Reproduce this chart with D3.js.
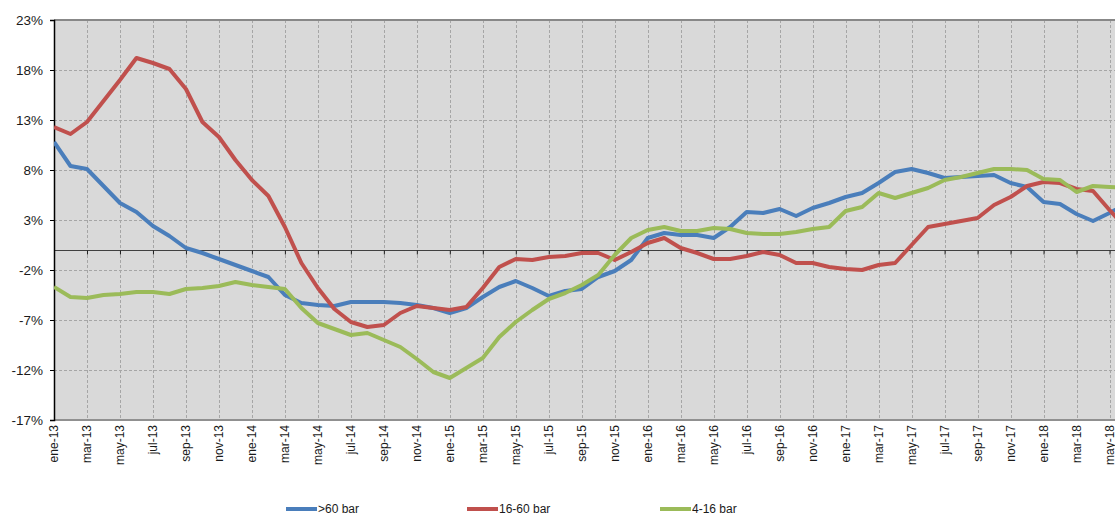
<!DOCTYPE html>
<html>
<head>
<meta charset="utf-8">
<script src="https://cdn.jsdelivr.net/npm/d3@7"></script>
<style>
  html, body { margin: 0; padding: 0; background: #ffffff; }
  svg { display: block; }
  text { font-family: "Liberation Sans", Arial, sans-serif; fill: #1a1a1a; }
</style>
</head>
<body>
<svg id="chart" width="1115" height="516"></svg>
<script>
// Monthly categories (ene-13 … jun-18)
const months = [
  "ene-13","feb-13","mar-13","abr-13","may-13","jun-13","jul-13","ago-13","sep-13","oct-13","nov-13","dic-13",
  "ene-14","feb-14","mar-14","abr-14","may-14","jun-14","jul-14","ago-14","sep-14","oct-14","nov-14","dic-14",
  "ene-15","feb-15","mar-15","abr-15","may-15","jun-15","jul-15","ago-15","sep-15","oct-15","nov-15","dic-15",
  "ene-16","feb-16","mar-16","abr-16","may-16","jun-16","jul-16","ago-16","sep-16","oct-16","nov-16","dic-16",
  "ene-17","feb-17","mar-17","abr-17","may-17","jun-17","jul-17","ago-17","sep-17","oct-17","nov-17","dic-17",
  "ene-18","feb-18","mar-18","abr-18","may-18","jun-18"
];

// Year-on-year change, % (>60 bar)
const over60 = [
  10.8, 8.4, 8.1, 6.4, 4.7, 3.8, 2.4, 1.4, 0.2, -0.3, -0.9, -1.5,
  -2.1, -2.7, -4.5, -5.3, -5.5, -5.6, -5.2, -5.2, -5.2, -5.3, -5.5, -5.8,
  -6.3, -5.8, -4.7, -3.7, -3.1, -3.8, -4.6, -4.1, -3.9, -2.7, -2.1, -1.0,
  1.2, 1.7, 1.5, 1.5, 1.2, 2.3, 3.8, 3.7, 4.1, 3.4, 4.2, 4.7,
  5.3, 5.7, 6.7, 7.8, 8.1, 7.7, 7.2, 7.3, 7.4, 7.5, 6.7, 6.3,
  4.8, 4.6, 3.6, 2.9, 3.7, 4.6
];

// Year-on-year change, % (16-60 bar)
const from16to60 = [
  12.3, 11.6, 12.8, 14.9, 17.0, 19.2, 18.7, 18.1, 16.1, 12.8, 11.3, 9.0,
  7.0, 5.4, 2.3, -1.3, -3.8, -5.9, -7.2, -7.7, -7.5, -6.3, -5.6, -5.8,
  -6.0, -5.7, -3.8, -1.7, -0.9, -1.0, -0.7, -0.6, -0.3, -0.3, -1.0, -0.2,
  0.7, 1.2, 0.2, -0.3, -0.9, -0.9, -0.6, -0.2, -0.5, -1.3, -1.3, -1.7,
  -1.9, -2.0, -1.5, -1.3, 0.5, 2.3, 2.6, 2.9, 3.2, 4.5, 5.3, 6.4,
  6.8, 6.7, 6.1, 5.9, 4.0, 2.2
];

// Year-on-year change, % (4-16 bar)
const from4to16 = [
  -3.7, -4.7, -4.8, -4.5, -4.4, -4.2, -4.2, -4.4, -3.9, -3.8, -3.6, -3.2,
  -3.5, -3.7, -3.9, -5.8, -7.3, -7.9, -8.5, -8.3, -9.0, -9.7, -10.9, -12.2,
  -12.8, -11.8, -10.8, -8.7, -7.2, -6.0, -4.9, -4.3, -3.5, -2.5, -0.5, 1.2,
  2.0, 2.3, 1.9, 1.9, 2.2, 2.1, 1.7, 1.6, 1.6, 1.8, 2.1, 2.3,
  3.9, 4.3, 5.7, 5.2, 5.7, 6.2, 7.0, 7.3, 7.7, 8.1, 8.1, 8.0,
  7.1, 7.0, 5.8, 6.4, 6.3, 6.2
];

const yTicks = [-17, -12, -7, -2, 3, 8, 13, 18, 23];

const seriesNames = [">60 bar", "16-60 bar", "4-16 bar"];
const seriesColors = ["#4a7ebb", "#c0504d", "#9bbb59"];
const seriesValues = [over60, from16to60, from4to16];

const svg = d3.select("#chart");
const W = 1115;
const plotLeft = 54, plotTop = 20, plotBottom = 420;
const plotRight = 1126;   // last category sits just past the visible edge

const x = d3.scalePoint().domain(months).range([plotLeft, plotRight]).padding(0);
const y = d3.scaleLinear().domain([-17, 23]).range([plotBottom, plotTop]);

const labelled = months.filter((m, i) => i % 2 === 0);

svg.append("defs").append("clipPath").attr("id", "plotclip")
  .append("rect").attr("x", plotLeft).attr("y", plotTop - 5)
  .attr("width", plotRight - plotLeft).attr("height", plotBottom - plotTop + 10);

// plot background
svg.append("rect")
  .attr("x", plotLeft).attr("y", plotTop)
  .attr("width", plotRight - plotLeft).attr("height", plotBottom - plotTop)
  .attr("fill", "#d9d9d9");

// grid
const grid = svg.append("g").attr("stroke", "#a6a6a6").attr("stroke-width", 1).attr("stroke-dasharray", "3,2");
grid.selectAll("line.h").data(yTicks.filter(v => v > -17 && v < 23)).join("line")
  .attr("x1", plotLeft).attr("x2", plotRight)
  .attr("y1", d => Math.round(y(d)) + 0.5).attr("y2", d => Math.round(y(d)) + 0.5);
grid.selectAll("line.v").data(labelled.slice(1)).join("line")
  .attr("x1", d => Math.round(x(d)) + 0.5).attr("x2", d => Math.round(x(d)) + 0.5)
  .attr("y1", plotTop).attr("y2", plotBottom);

// top and bottom frame
svg.append("line").attr("x1", plotLeft).attr("x2", W).attr("y1", plotTop).attr("y2", plotTop)
  .attr("stroke", "#888888").attr("stroke-width", 2);
svg.append("line").attr("x1", plotLeft).attr("x2", W).attr("y1", plotBottom).attr("y2", plotBottom)
  .attr("stroke", "#909090").attr("stroke-width", 2);

// zero line with category ticks
const xAxis = d3.axisBottom(x).tickValues(labelled).tickSize(4).tickFormat("");
const gx = svg.append("g").attr("transform", `translate(0,${Math.round(y(0)) + 0.5})`).call(xAxis);
gx.select(".domain").attr("stroke", "#404040").attr("d", `M${plotLeft},0H${W}`);
gx.selectAll(".tick line").attr("stroke", "#202020");

// category labels along the bottom
svg.append("g").selectAll("text").data(labelled).join("text")
  .attr("transform", d => `translate(${x(d)},${plotBottom + 5}) rotate(-90)`)
  .attr("text-anchor", "end")
  .attr("dy", "0.35em")
  .style("font-size", "12px")
  .text(d => d);

// value axis
const yAxis = d3.axisLeft(y).tickValues(yTicks).tickSize(4).tickPadding(7).tickFormat(d => d + "%");
const gy = svg.append("g").attr("transform", `translate(${plotLeft},0)`).call(yAxis);
gy.select(".domain").attr("stroke", "#000000").attr("stroke-width", 1.5);
gy.selectAll(".tick line").attr("stroke", "#000000");
gy.selectAll(".tick text").style("font-size", "13.5px").attr("fill", "#1a1a1a")
  .style("font-family", "'Liberation Sans', Arial, sans-serif");

// series lines
const line = d3.line().x((d, i) => x(months[i])).y(d => y(d));
const lines = svg.append("g").attr("clip-path", "url(#plotclip)");
seriesValues.forEach((vals, k) => {
  lines.append("path")
    .datum(vals)
    .attr("fill", "none")
    .attr("stroke", seriesColors[k])
    .attr("stroke-width", 4)
    .attr("stroke-linejoin", "round")
    .attr("d", line);
});

// legend
const legendX = [286, 467, 660];
const lg = svg.append("g");
seriesNames.forEach((name, k) => {
  lg.append("line")
    .attr("x1", legendX[k]).attr("x2", legendX[k] + 31)
    .attr("y1", 509).attr("y2", 509)
    .attr("stroke", seriesColors[k]).attr("stroke-width", 4);
  lg.append("text")
    .attr("x", legendX[k] + 32).attr("y", 509).attr("dy", "0.35em")
    .style("font-size", "12px")
    .text(name);
});
</script>
</body>
</html>
